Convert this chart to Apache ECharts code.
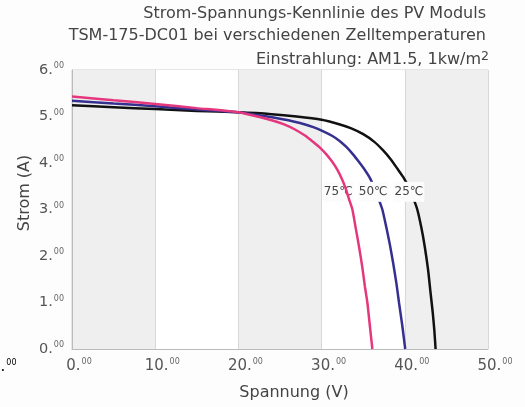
<!DOCTYPE html>
<html><head><meta charset="utf-8">
<script src="https://cdn.jsdelivr.net/npm/echarts@6/dist/echarts.min.js"></script>
<style>html,body{margin:0;padding:0;background:#fff}#c{width:525px;height:407px}</style>
</head><body><div id="c"></div>
<script>
const titleLines = ["Strom-Spannungs-Kennlinie des PV Moduls", "TSM-175-DC01 bei verschiedenen Zelltemperaturen"];
const subTitle = "Einstrahlung: AM1.5, 1kw/m";
const xName = "Spannung (V)";
const yName = "Strom (A)";
const seriesNames = ["25℃", "50℃", "75℃"];
const seriesColors = ["#111111", "#35308f", "#e5377d"];
const curve25 = [[0,5.24],[5,5.20],[10,5.16],[15,5.12],[20,5.09],[24,5.05],[27,5.0],[30,4.93],[32,4.84],[33.5,4.75],[35,4.62],[36.3,4.46],[37.4,4.27],[38.3,4.08],[39.1,3.88],[39.8,3.7],[40.4,3.5],[41.0,3.25],[41.5,3.0],[42.0,2.6],[42.4,2.2],[42.8,1.7],[43.1,1.2],[43.35,0.8],[43.55,0.4],[43.7,0]];
const curve50 = [[0,5.34],[5,5.28],[10,5.22],[15,5.15],[20,5.09],[22,5.04],[24.2,4.98],[26,4.92],[27.4,4.86],[29,4.77],[30.2,4.68],[31.3,4.58],[32.2,4.47],[33,4.34],[33.8,4.18],[34.5,4.02],[35.2,3.85],[35.8,3.68],[36.3,3.48],[36.8,3.25],[37.3,3.0],[37.8,2.6],[38.2,2.25],[38.6,1.85],[39.0,1.4],[39.3,1.0],[39.7,0.5],[40.05,0]];
const curve75 = [[0,5.43],[5,5.35],[10,5.27],[15,5.18],[20,5.09],[22,5.01],[24,4.92],[25.5,4.83],[26.8,4.72],[28,4.59],[29,4.45],[29.8,4.33],[30.6,4.18],[31.3,4.02],[31.9,3.85],[32.4,3.67],[32.9,3.45],[33.3,3.22],[33.7,3.0],[34.1,2.6],[34.5,2.2],[34.9,1.75],[35.2,1.35],[35.5,1.0],[35.8,0.5],[36.1,0]];
const labelPos = [[40.5,3.38],[36.2,3.38],[32.0,3.38]];
const curves = [curve25, curve50, curve75];

const chart = echarts.init(document.getElementById('c'));
const tickRich = {
  a: {fontSize: 15, color: '#555', fontFamily: 'DejaVu Sans'},
  b: {fontSize: 8, color: '#666', fontFamily: 'DejaVu Sans', verticalAlign: 'top', padding: [0,0,8,1]}
};
const yRich = {
  a: {fontSize: 14.5, color: '#555', fontFamily: 'DejaVu Sans'},
  b: {fontSize: 8, color: '#666', fontFamily: 'DejaVu Sans', verticalAlign: 'top', padding: [0,0,8,1]}
};
const fmt = v => '{a|' + v + '.}{b|00}';
chart.setOption({
  backgroundColor: '#fdfdfd',
  animation: false,
  grid: {left: 72, right: 37, top: 70, bottom: 58, show: true, borderColor: '#cfcfcf', borderWidth: 1, backgroundColor: 'transparent'},
  graphic: [
    {type: 'text', right: 39, top: 6, style: {text: titleLines[0], font: '16px "DejaVu Sans"', fill: '#444', textAlign: 'right'}},
    {type: 'text', right: 39, top: 28, style: {text: titleLines[1], font: '16px "DejaVu Sans"', fill: '#444', textAlign: 'right'}},
    {type: 'text', right: 36, top: 50, style: {
      text: '{a|' + subTitle + '}{b|2}',
      rich: {a: {fontSize: 16, fontFamily: 'DejaVu Sans', fill: '#444'}, b: {fontSize: 12.5, fontFamily: 'DejaVu Sans', fill: '#444', verticalAlign: 'top', padding: [0,0,6,0]}},
      textAlign: 'right'}},
    {type: 'text', x: -9, y: 359, style: {text: '{a|0.}{b|00}', rich: tickRich}},
    {type: 'text', x: 25, y: 193, rotation: Math.PI / 2, style: {text: yName, font: '16px "DejaVu Sans"', fill: '#444', align: 'center', verticalAlign: 'middle', textAlign: 'center', textVerticalAlign: 'middle'}}
  ],
  xAxis: {
    type: 'value', min: 0, max: 50, interval: 10,
    name: xName, nameLocation: 'middle', nameGap: 36,
    nameTextStyle: {fontSize: 16, color: '#444', fontFamily: 'DejaVu Sans', padding: [0, 0, 0, 28]},
    axisLine: {show: true, lineStyle: {color: '#bbb'}},
    axisTick: {show: false},
    axisLabel: {formatter: fmt, rich: tickRich, margin: 9, padding: [0, 0, 0, 14]},
    splitLine: {show: true, lineStyle: {color: '#d8d8d8'}},
    splitArea: {show: true, areaStyle: {color: ['#efefef', '#ffffff']}}
  },
  yAxis: {
    type: 'value', min: 0, max: 6, interval: 1,
    axisLine: {show: true, lineStyle: {color: '#bbb'}},
    axisTick: {show: false},
    axisLabel: {formatter: fmt, rich: yRich, margin: 8},
    splitLine: {show: true, lineStyle: {color: '#cccccc'}}
  },
  series: curves.map((c, i) => ({
    type: 'line', name: seriesNames[i], data: c, smooth: 0.2, showSymbol: false,
    lineStyle: {color: seriesColors[i], width: 2.5}, z: 3 + i,
    markPoint: {
      symbol: 'rect', symbolSize: 1, itemStyle: {color: 'transparent'},
      data: [{coord: labelPos[i], value: seriesNames[i]}],
      label: {show: true, position: 'inside', formatter: seriesNames[i], fontSize: 12, color: '#444', fontFamily: 'DejaVu Sans',
        backgroundColor: '#fcfcfc', padding: [4, 1, 4, 1]}
    }
  }))
});
</script></body></html>
